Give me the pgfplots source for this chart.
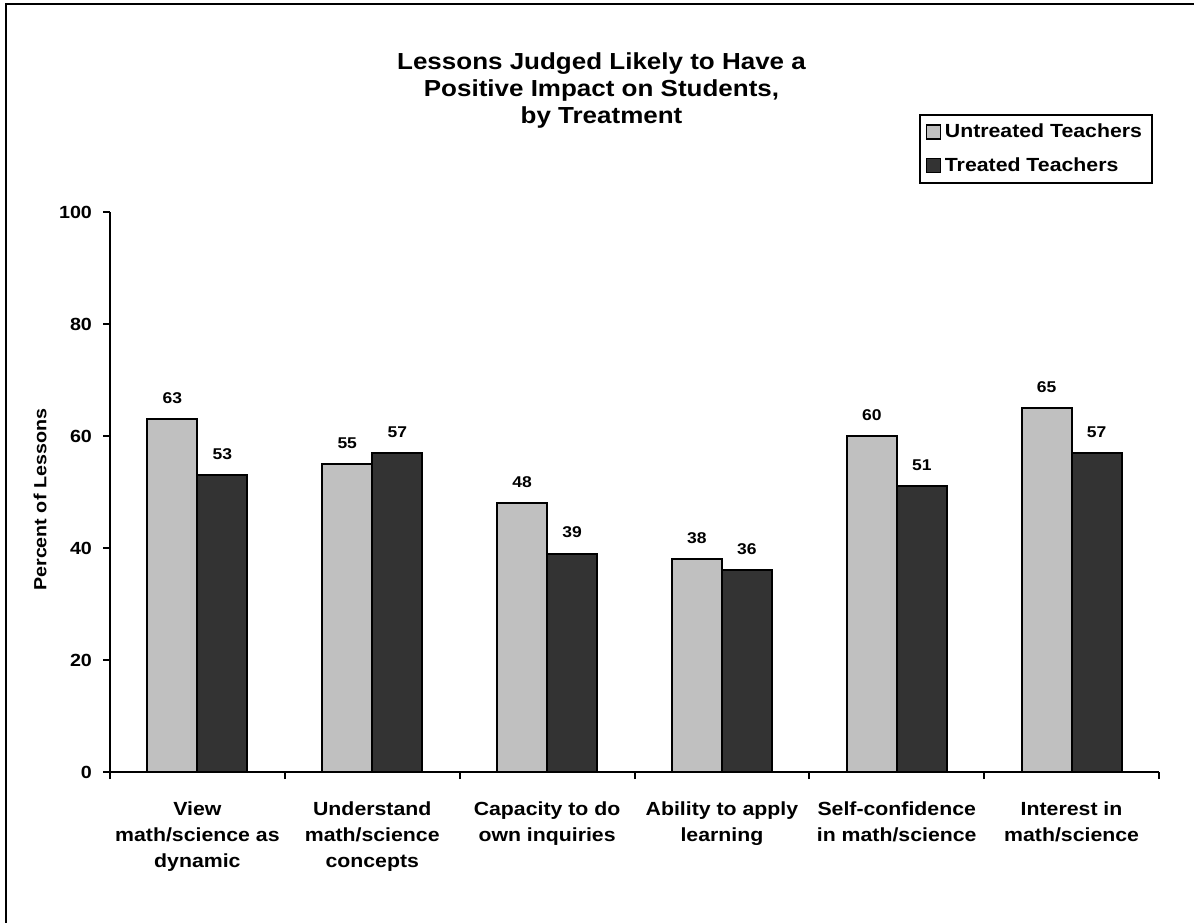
\documentclass[border=0pt]{standalone}
\usepackage{fontspec}
\setmainfont{Liberation Sans}[FakeStretch=1.12]
\usepackage{pgfplots}
\pgfplotsset{compat=1.18}
\definecolor{ltgray}{HTML}{C0C0C0}
\definecolor{dkgray}{HTML}{333333}
\begin{document}
\begin{tikzpicture}
\useasboundingbox (0,0) rectangle (597pt,461pt);
\draw[line width=1pt] (3pt,-5pt) -- (3pt,459pt) -- (605pt,459pt);
\node[align=center, font=\fontsize{11.6}{13.5}\selectfont\bfseries] at (300.75pt,415.8pt)
  {Lessons Judged Likely to Have a\\Positive Impact on Students,\\by Treatment};
\begin{axis}[
  at={(55pt,75pt)}, anchor=south west,
  width=524.5pt, height=280pt, scale only axis,
  xmin=-0.5, xmax=5.5, ymin=0, ymax=100,
  axis x line=bottom, axis y line=left,
  axis line style={-, line width=1pt, black},
  ybar=0pt, bar width=25pt,
  xtick={-0.5,0.5,...,5.5},
  x tick label as interval,
  xticklabels={{View\\math/science as\\dynamic},{Understand\\math/science\\concepts},{Capacity to do\\own inquiries},{Ability to apply\\learning},{Self-confidence\\in math/science},{Interest in\\math/science}},
  xticklabel style={align=center, font=\fontsize{9.5}{13}\selectfont\bfseries, yshift=-8pt},
  ytick={0,20,...,100},
  yticklabel style={font=\fontsize{8.8}{10}\selectfont\bfseries, xshift=-2pt},
  /pgf/number format/assume math mode=true,
  tick align=outside, major tick length=3.5pt,
  tick style={black, line width=1pt},
  ylabel={Percent of Lessons},
  ylabel style={at={(axis description cs:-0.0667,0.486)}, anchor=center, font=\fontsize{8.8}{10}\selectfont\bfseries},
  nodes near coords,
  every node near coord/.append style={anchor=center, yshift=10.5pt, font=\fontsize{7.8}{9}\selectfont\bfseries, black},
  clip=false,
  legend style={at={(0.9943,1.175)}, anchor=north east, draw=black, line width=1pt,
    font=\fontsize{9.5}{11}\selectfont\bfseries, row sep=4.5pt, inner xsep=3pt, inner ysep=2.3pt},
  legend cell align=left,
  legend image code/.code={\draw[#1, line width=0.6pt] (0pt,-3.5pt) rectangle (7pt,3.5pt);},
]
\addplot[fill=ltgray, draw=black, line width=1pt] coordinates {(0,63) (1,55) (2,48) (3,38) (4,60) (5,65)};
\addplot[fill=dkgray, draw=black, line width=1pt] coordinates {(0,53) (1,57) (2,39) (3,36) (4,51) (5,57)};
\legend{Untreated Teachers, Treated Teachers}
\end{axis}
\end{tikzpicture}
\end{document}
